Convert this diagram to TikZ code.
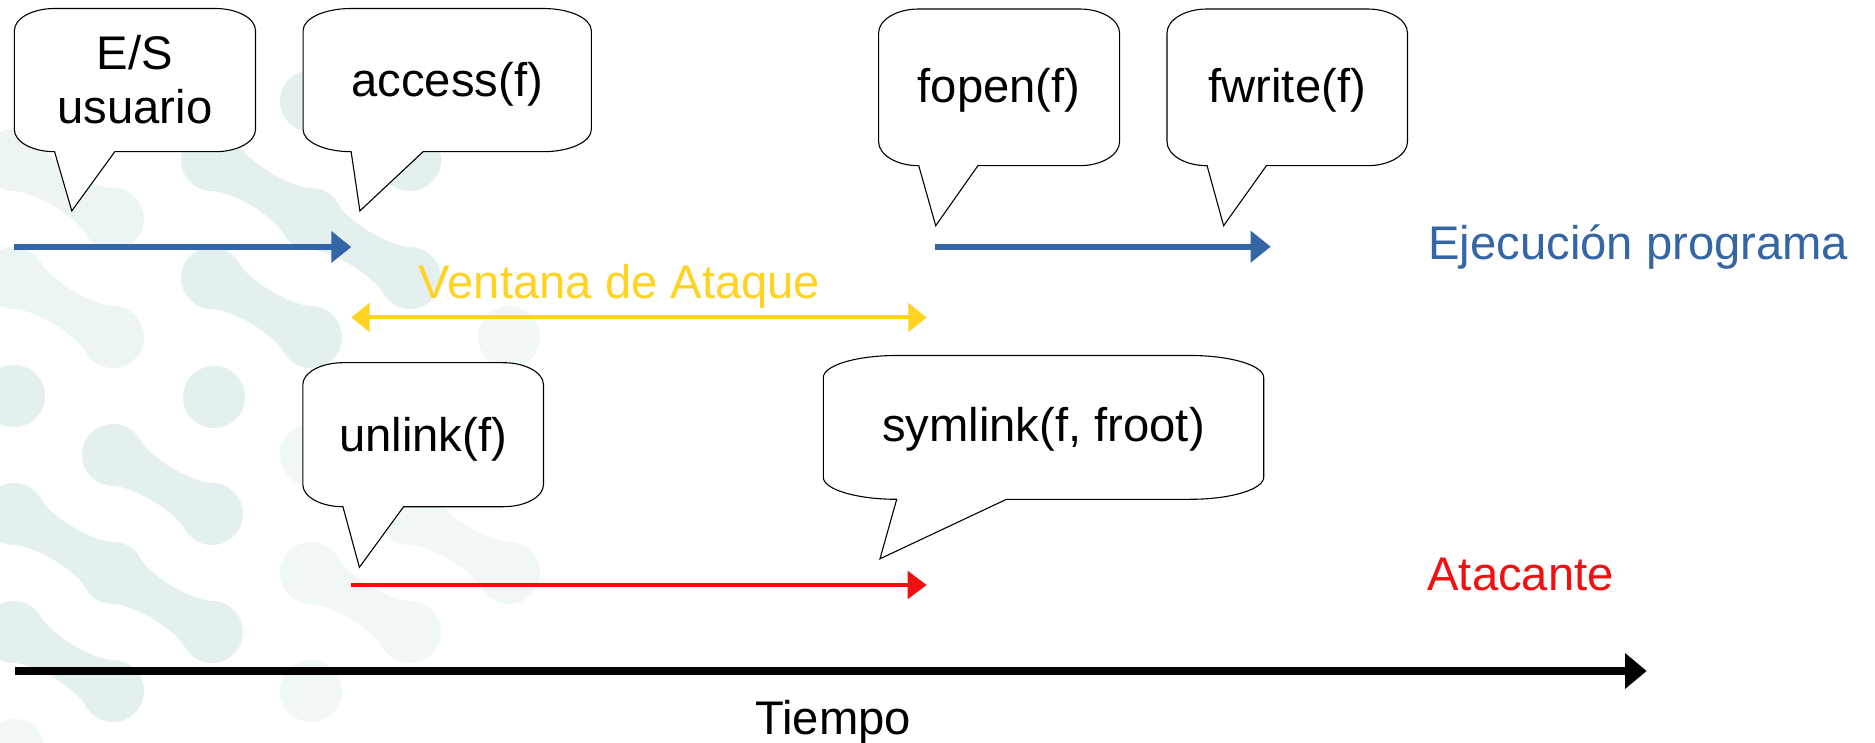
\documentclass[tikz,border=0pt]{standalone}
\usepackage{fontspec}
\setmainfont{Liberation Sans}
\usetikzlibrary{arrows.meta}

\definecolor{progblue}{HTML}{3465A4}
\definecolor{winyellow}{HTML}{FFD320}
\definecolor{atkred}{HTML}{F01010}
\definecolor{dotA}{HTML}{E4F0F0}
\definecolor{dotB}{HTML}{ECF5F3}
\definecolor{dotC}{HTML}{F1F7F7}

\tikzset{
  bubble/.style={draw=black, line width=0.55pt, fill=white},
  bubbletext/.style={font=\fontsize{23.6}{27}\selectfont, anchor=base, inner sep=0pt, align=center},
  tagtext/.style={font=\fontsize{23.6}{27}\selectfont, anchor=base west, inner sep=0pt},
  progarrow/.style={progblue, line width=3pt, -{Triangle[length=10pt,width=15.3pt]}},
  winarrow/.style={winyellow, line width=2pt,
    {Triangle[length=9.2pt,width=14.2pt]}-{Triangle[length=9.2pt,width=14.2pt]}},
  atkarrow/.style={atkred, line width=2pt, -{Triangle[length=9.5pt,width=13.7pt]}},
  timearrow/.style={black, line width=3.9pt, -{Triangle[length=10.8pt,width=17.2pt]}},
}

% two joined dots of the background pattern, starting at (x,y) and going down-right
\newcommand\bgbond[3]{%
  \fill[#1, shift={(#2,-#3)}, rotate=-30.8]
    (15.5,26.8) .. controls (25.9,20.8) and (45.6,19) .. (57.6,19)
    .. controls (69.6,19) and (89.3,20.8) .. (99.7,26.8)
    arc[start angle=120, end angle=-120, radius=31]
    .. controls (89.3,-20.8) and (69.6,-19) .. (57.6,-19)
    .. controls (45.6,-19) and (25.9,-20.8) .. (15.5,-26.8)
    arc[start angle=-60, end angle=-300, radius=31] -- cycle;}
\newcommand\bgdot[3]{\fill[#1] (#2,-#3) circle[radius=31];}

% speech bubble: name, left, top, right, bottom, pointer base x, tip, last text baseline, text
\newcommand\speech[9]{%
  \pgfmathsetmacro\brx{(#4-#2)/6}%
  \pgfmathsetmacro\bry{(#5-#3)/6.5}%
  \coordinate (#1-tip) at #7;
  \draw[bubble] (#2,{-(#3+\bry)})
    arc[start angle=180, end angle=90, x radius=\brx, y radius=\bry]
    -- ({#4-\brx},-#3)
    arc[start angle=90, end angle=0, x radius=\brx, y radius=\bry]
    -- (#4,{-(#5-\bry)})
    arc[start angle=0, end angle=-90, x radius=\brx, y radius=\bry]
    -- (#6,-#5) -- (#1-tip) -- ({#2+\brx},-#5)
    arc[start angle=270, end angle=180, x radius=\brx, y radius=\bry] -- cycle;
  \node[bubbletext] (#1) at ({(#2+#4)/2},-#8) {#9};}

\begin{document}
\begin{tikzpicture}[x=0.5pt, y=0.5pt]
  \path[use as bounding box] (0,0) rectangle (1875,-743);
  \clip (0,0) rectangle (1875,-743);
  \fill[white] (0,0) rectangle (1875,-743);

  % background dot pattern
  \bgbond{dotB}{14}{160}
  \bgbond{dotB}{14}{278}
  \bgbond{dotA}{212}{160}
  \bgbond{dotA}{311}{219}
  \bgbond{dotA}{212}{278}
  \bgbond{dotA}{113}{455}
  \bgbond{dotA}{14}{514}
  \bgbond{dotA}{113}{573}
  \bgbond{dotA}{14}{632}
  \bgbond{dotC}{311}{573}
  \bgbond{dotC}{410}{514}
  \bgdot{dotA}{14}{396}
  \bgdot{dotA}{214}{397}
  \bgdot{dotA}{311}{101}
  \bgdot{dotA}{410}{160}
  \bgdot{dotC}{311}{455}
  \bgdot{dotC}{311}{691}
  \bgdot{dotC}{509}{337}
  \bgdot{dotC}{14}{750}

  % speech bubbles
  \speech{es}{14.4}{8.5}{255.5}{151.7}{114.8}{(71.8,-210.9)}{124}{E/S\\usuario}
  \speech{access}{303.1}{8.5}{591.3}{151.7}{423.1}{(359.9,-210.9)}{96.7}{access(f)}
  \speech{fopen}{878.6}{9}{1119.6}{165.7}{977.9}{(935.7,-225.7)}{102.7}{fopen(f)}
  \speech{fwrite}{1167}{9}{1407.5}{165.7}{1266.4}{(1223.6,-225.7)}{102.7}{fwrite(f)}
  \speech{unlink}{302.8}{362.7}{543.5}{506.7}{403.6}{(359.4,-567.3)}{451.7}{unlink(f)}
  \speech{symlink}{823.3}{355.5}{1263.7}{499.3}{1006.5}{(880,-558.8)}{441.7}{symlink(f, froot)}

  % timeline end points
  \coordinate (prog1s) at (14.4,-247);
  \coordinate (prog1e) at (351.3,-247);
  \coordinate (prog2s) at (935,-246.7);
  \coordinate (prog2e) at (1270.7,-246.7);
  \coordinate (wins) at (351.3,-317.5);
  \coordinate (wine) at (926.7,-317.5);
  \coordinate (atks) at (351.3,-585);
  \coordinate (atke) at (926.7,-585);
  \coordinate (times) at (15,-671);
  \coordinate (timee) at (1646.7,-671);

  \draw[progarrow] (prog1s) -- (prog1e);
  \draw[progarrow] (prog2s) -- (prog2e);
  \draw[winarrow] (wins) -- (wine);
  \draw[atkarrow] (atks) -- (atke);
  \draw[timearrow] (times) -- (timee);

  % labels
  \node[tagtext, text=progblue] (ejec) at (1428,-259.3) {Ejecución programa};
  \node[tagtext, text=winyellow] (vent) at (418.3,-298.7) {Ventana de Ataque};
  \node[tagtext, text=atkred] (atac) at (1427,-590.7) {Atacante};
  \node[tagtext] (tiempo) at (755,-734) {Tiempo};
\end{tikzpicture}
\end{document}
